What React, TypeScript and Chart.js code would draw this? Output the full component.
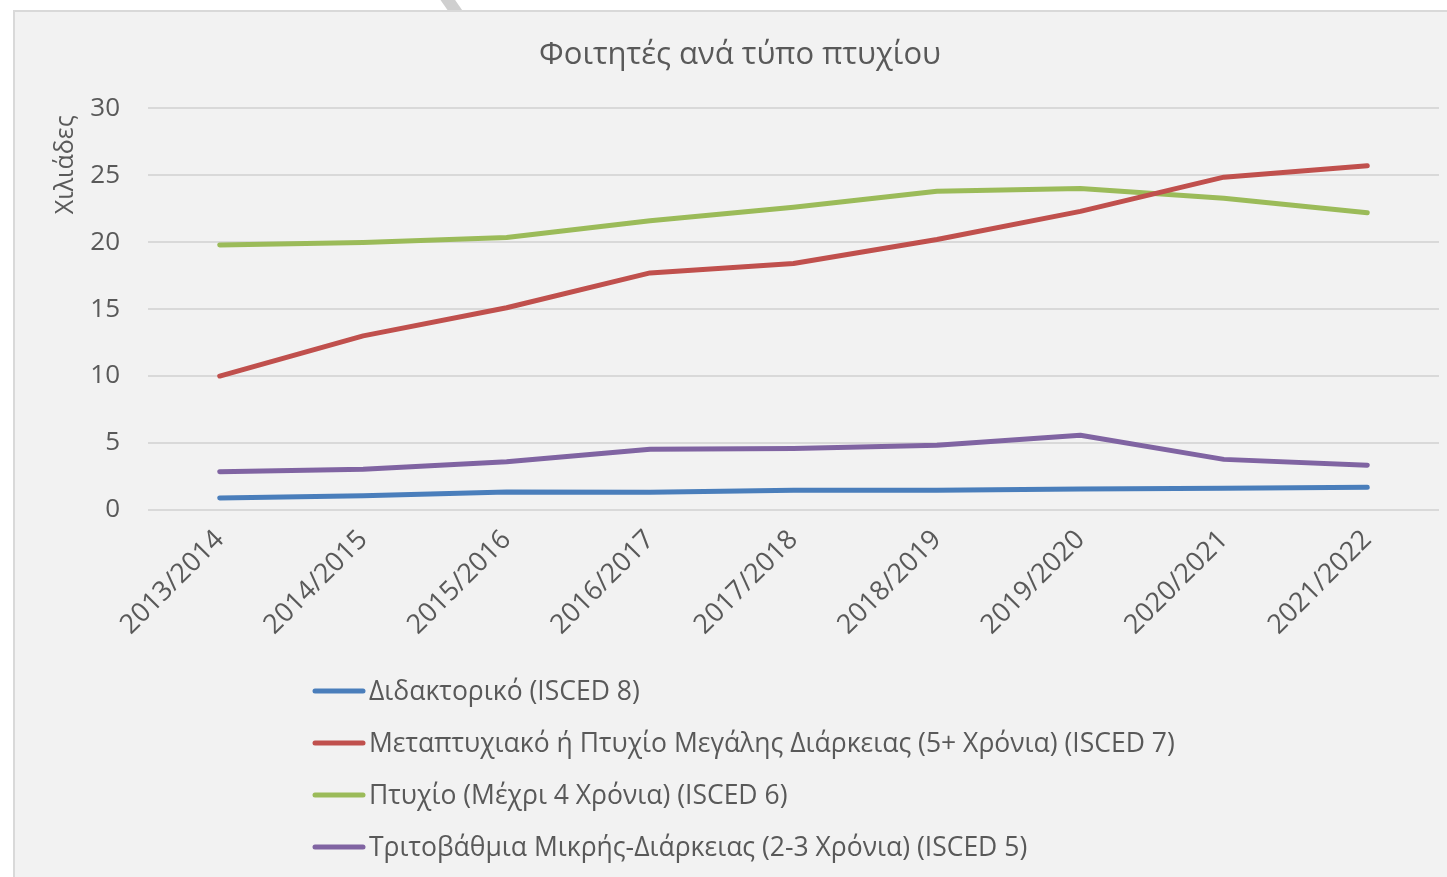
import React, { useEffect, useRef } from "react";
import { Chart, registerables } from "chart.js";

Chart.register(...registerables);

const chartTitle = "Φοιτητές ανά τύπο πτυχίου";
const yAxisTitle = "Χιλιάδες";
const categories = [
  "2013/2014",
  "2014/2015",
  "2015/2016",
  "2016/2017",
  "2017/2018",
  "2018/2019",
  "2019/2020",
  "2020/2021",
  "2021/2022",
];
const seriesNames = [
  "Διδακτορικό (ISCED 8)",
  "Μεταπτυχιακό ή Πτυχίο Μεγάλης Διάρκειας (5+ Χρόνια) (ISCED 7)",
  "Πτυχίο (Μέχρι 4 Χρόνια) (ISCED 6)",
  "Τριτοβάθμια Μικρής-Διάρκειας (2-3 Χρόνια) (ISCED 5)",
];
const doctorate = [0.9, 1.07, 1.34, 1.32, 1.47, 1.47, 1.57, 1.62, 1.69];
const masters = [10.0, 13.0, 15.1, 17.7, 18.4, 20.2, 22.3, 24.85, 25.7];
const bachelor = [19.79, 19.97, 20.34, 21.6, 22.6, 23.8, 24.0, 23.28, 22.2];
const shortCycle = [2.86, 3.04, 3.61, 4.53, 4.6, 4.83, 5.58, 3.78, 3.34];
const yMin = 0;
const yMax = 30;
const yStep = 5;

const seriesValues = [doctorate, masters, bachelor, shortCycle];
const seriesColors = ["#4a7ebb", "#c0504d", "#9bbb59", "#8064a2"];

const FONT = "'Open Sans', 'Noto Sans', sans-serif";
const TEXT = "#595959";

const verticalLegend = {
  id: "verticalLegend",
  afterDraw(chart: any) {
    const ctx = chart.ctx;
    const x0 = 313;
    const lineLen = 52;
    const startY = 691;
    const rowGap = 52;
    ctx.save();
    ctx.font = `26.5px ${FONT}`;
    ctx.textBaseline = "middle";
    ctx.textAlign = "left";
    chart.data.datasets.forEach((ds: any, i: number) => {
      const y = startY + i * rowGap;
      ctx.strokeStyle = ds.borderColor;
      ctx.lineWidth = 5;
      ctx.lineCap = "round";
      ctx.beginPath();
      ctx.moveTo(x0 + 2, y);
      ctx.lineTo(x0 + lineLen - 2, y);
      ctx.stroke();
      ctx.fillStyle = TEXT;
      ctx.fillText(ds.label, x0 + lineLen + 4, y + 1);
    });
    ctx.restore();
  },
};

const yTitlePlugin = {
  id: "yTitlePlugin",
  afterDraw(chart: any) {
    const ctx = chart.ctx;
    const area = chart.chartArea;
    ctx.save();
    ctx.font = `25px ${FONT}`;
    ctx.fillStyle = TEXT;
    ctx.textAlign = "right";
    ctx.textBaseline = "middle";
    ctx.translate(66, area.top + 7);
    ctx.rotate(-Math.PI / 2);
    ctx.fillText(yAxisTitle, 0, 0);
    ctx.restore();
  },
};

export default function App() {
  const canvasRef = useRef<HTMLCanvasElement | null>(null);

  useEffect(() => {
    if (!canvasRef.current) return;
    const chart = new Chart(canvasRef.current, {
      type: "line",
      data: {
        labels: categories,
        datasets: seriesNames.map((name, i) => ({
          label: name,
          data: seriesValues[i],
          borderColor: seriesColors[i],
          backgroundColor: seriesColors[i],
          borderWidth: 5,
          pointRadius: 0,
          pointHoverRadius: 0,
          tension: 0,
          borderCapStyle: "round",
          borderJoinStyle: "round",
          fill: false,
        })),
      },
      options: {
        animation: false,
        responsive: false,
        maintainAspectRatio: false,
        events: [],
        layout: {
          padding: { left: 41, right: 8, top: 0, bottom: 217 },
        },
        plugins: {
          legend: { display: false },
          tooltip: { enabled: false },
          title: {
            display: true,
            text: chartTitle,
            color: TEXT,
            font: { family: FONT, size: 31, weight: "normal", lineHeight: 1.2 },
            padding: { top: 37, bottom: 34 },
          },
        },
        scales: {
          x: {
            offset: true,
            grid: { display: false, drawTicks: false },
            border: { display: false },
            ticks: {
              color: TEXT,
              font: { family: FONT, size: 27 },
              maxRotation: 45,
              minRotation: 45,
              padding: 14,
              autoSkip: false,
            },
            afterFit(scale: any) {
              scale.height = 150;
            },
          },
          y: {
            min: yMin,
            max: yMax,
            grid: { color: "#d9d9d9", lineWidth: 2, drawTicks: false },
            border: { display: false },
            ticks: {
              stepSize: yStep,
              color: TEXT,
              font: { family: FONT, size: 26 },
              padding: 28,
            },
            afterFit(scale: any) {
              scale.width = 107;
            },
          },
        },
      },
      plugins: [verticalLegend, yTitlePlugin],
    });
    return () => chart.destroy();
  }, []);

  return (
    <div
      style={{
        position: "absolute",
        left: 0,
        top: 0,
        width: 1447,
        height: 877,
        background: "#ffffff",
        overflow: "hidden",
      }}
    >
      <div
        style={{
          position: "absolute",
          left: 446,
          top: -6,
          width: 12,
          height: 24,
          background: "#cfcfcf",
          transform: "rotate(-35deg)",
        }}
      />
      <div
        style={{
          position: "absolute",
          left: 13,
          top: 10,
          width: 1450,
          height: 880,
          background: "#f2f2f2",
          borderLeft: "2px solid #d9d9d9",
          borderTop: "2px solid #d9d9d9",
        }}
      />
      <canvas
        ref={canvasRef}
        width={1447}
        height={877}
        style={{ position: "absolute", left: 0, top: 0, width: 1447, height: 877 }}
      />
    </div>
  );
}
